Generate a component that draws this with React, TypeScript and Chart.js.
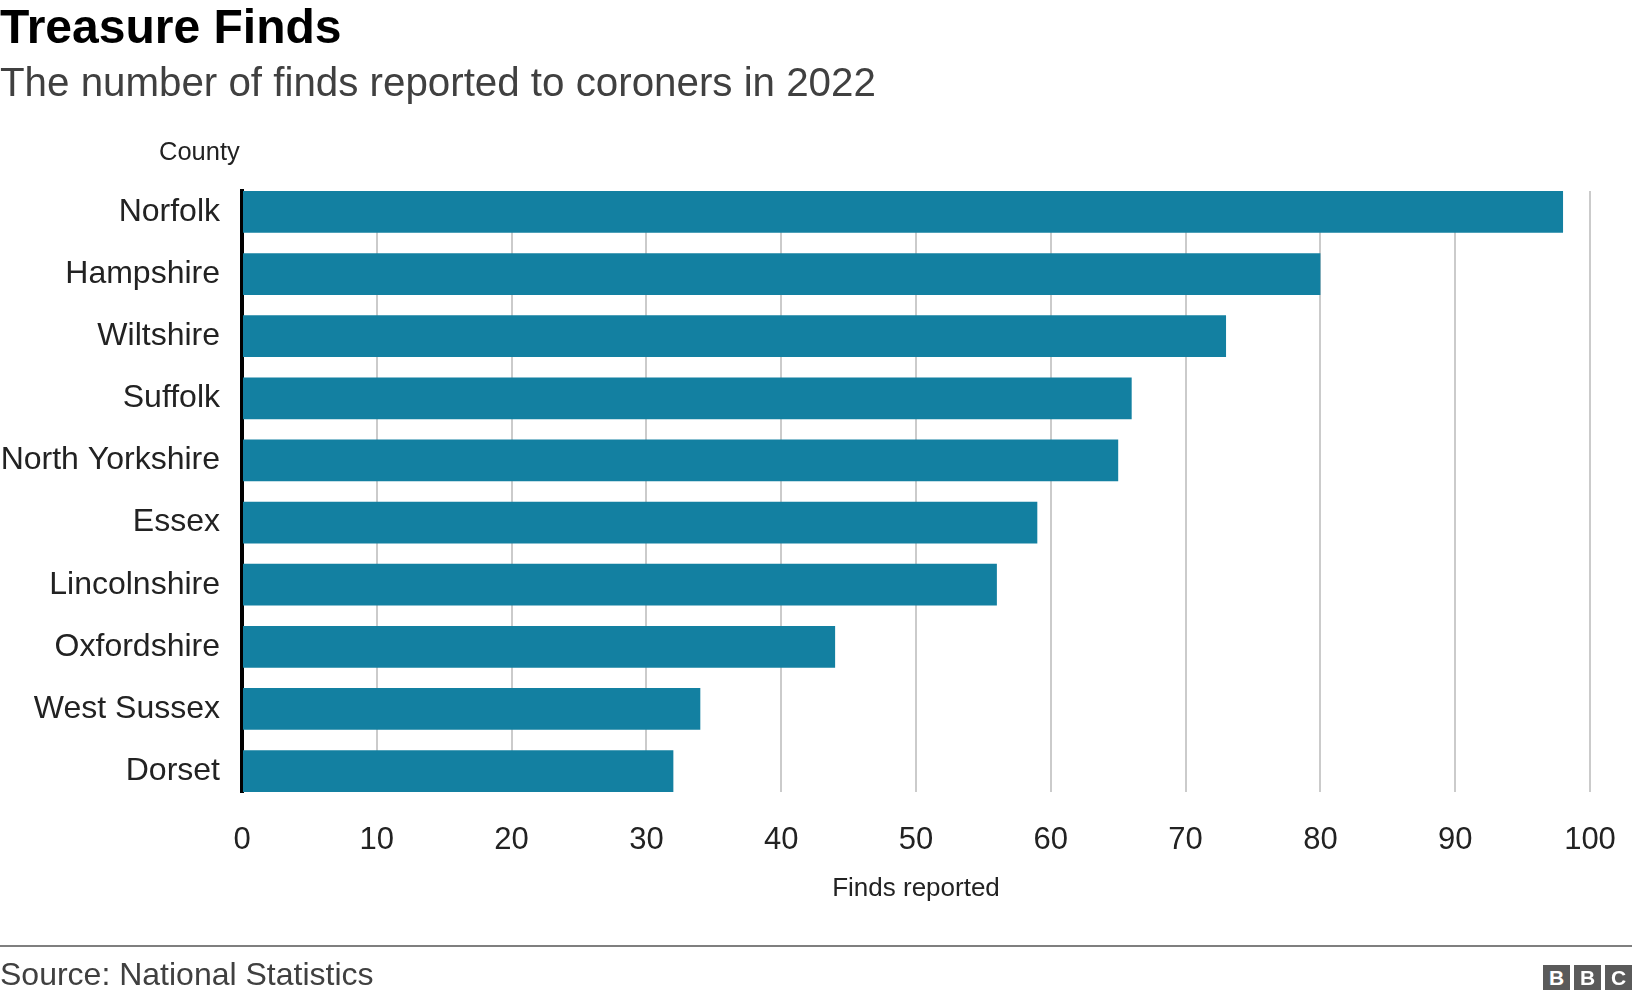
import React, { useEffect, useRef } from 'react';
import { Chart, registerables } from 'chart.js';

Chart.register(...registerables);

const FONT = '"Liberation Sans", Arial, Helvetica, sans-serif';

const counties = [
  'Norfolk',
  'Hampshire',
  'Wiltshire',
  'Suffolk',
  'North Yorkshire',
  'Essex',
  'Lincolnshire',
  'Oxfordshire',
  'West Sussex',
  'Dorset',
];
const finds = [98, 80, 73, 66, 65, 59, 56, 44, 34, 32];
const xMin = 0;
const xMax = 100;
const xStep = 10;

const titleText = 'Treasure Finds';
const subtitleText = 'The number of finds reported to coroners in 2022';
const yAxisLabel = 'County';
const xAxisLabel = 'Finds reported';
const sourceText = 'Source: National Statistics';
const logoLetters = ['B', 'B', 'C'];

const W = 1632;
const H = 1000;
const AREA_LEFT = 242;
const AREA_TOP = 191;
const AREA_RIGHT = 1590;
const AREA_BOTTOM = 792;
const PAD_BOTTOM = 96;
const HALF_BAR = 0.336;

export default function App() {
  const canvasRef = useRef<HTMLCanvasElement | null>(null);

  useEffect(() => {
    document.body.style.margin = '0';
    const canvas = canvasRef.current;
    if (!canvas) return;
    const chart = new Chart(canvas, {
      type: 'bar',
      data: {
        datasets: [
          {
            data: counties.map((c, i) => ({ x: finds[i], y: i })),
            backgroundColor: '#1380A1',
            borderWidth: 0,
            categoryPercentage: 1,
            barPercentage: HALF_BAR * 2,
          },
        ],
      },
      options: {
        indexAxis: 'y',
        animation: false,
        responsive: false,
        maintainAspectRatio: false,
        devicePixelRatio: 1,
        layout: {
          padding: { left: 0, top: AREA_TOP, right: W - AREA_RIGHT, bottom: PAD_BOTTOM },
        },
        plugins: {
          legend: { display: false },
          tooltip: { enabled: false },
          title: { display: false },
        },
        scales: {
          x: {
            type: 'linear',
            position: 'bottom',
            min: xMin,
            max: xMax,
            ticks: {
              stepSize: xStep,
              color: '#222222',
              font: { family: FONT, size: 31 },
              padding: 30,
              maxRotation: 0,
            },
            grid: { color: '#cbcbcb', lineWidth: 2, drawTicks: false, tickLength: 0 },
            border: { display: false },
            title: {
              display: true,
              text: xAxisLabel,
              color: '#222222',
              font: { family: FONT, size: 26 },
              padding: 0,
            },
            afterFit: (scale: any) => {
              scale.height = H - PAD_BOTTOM - AREA_BOTTOM;
              scale.paddingLeft = 0;
              scale.paddingRight = 0;
            },
          },
          y: {
            type: 'linear',
            position: 'left',
            reverse: true,
            offset: false,
            min: -HALF_BAR,
            max: counties.length - 1 + HALF_BAR,
            ticks: {
              stepSize: 1,
              includeBounds: false,
              autoSkip: false,
              color: '#222222',
              font: { family: FONT, size: 32 },
              padding: 22,
              callback: (v: any) => {
                const n = Number(v);
                return Number.isInteger(n) && counties[n] !== undefined ? counties[n] : '';
              },
            },
            grid: { display: false, offset: false, drawTicks: false, tickLength: 0 },
            border: { display: true, color: '#000000', width: 4 },
            afterFit: (scale: any) => {
              scale.width = AREA_LEFT;
              scale.paddingTop = 0;
              scale.paddingBottom = 0;
            },
          },
        },
      } as any,
    });
    return () => chart.destroy();
  }, []);

  return (
    <div
      style={{
        position: 'absolute',
        left: 0,
        top: 0,
        width: W,
        height: H,
        background: '#ffffff',
        overflow: 'hidden',
        fontFamily: FONT,
      }}
    >
      <canvas
        ref={canvasRef}
        width={W}
        height={H}
        style={{ position: 'absolute', left: 0, top: 0, width: W, height: H }}
      />
      <div
        style={{
          position: 'absolute',
          left: 0,
          top: 3,
          fontSize: 48,
          lineHeight: '48px',
          fontWeight: 700,
          color: '#000000',
          whiteSpace: 'nowrap',
        }}
      >
        {titleText}
      </div>
      <div
        style={{
          position: 'absolute',
          left: 0,
          top: 63,
          fontSize: 40.3,
          lineHeight: '40px',
          color: '#404040',
          whiteSpace: 'nowrap',
        }}
      >
        {subtitleText}
      </div>
      <div
        style={{
          position: 'absolute',
          left: 159,
          top: 138.5,
          fontSize: 25.5,
          lineHeight: '25px',
          color: '#222222',
          whiteSpace: 'nowrap',
        }}
      >
        {yAxisLabel}
      </div>
      <div
        style={{
          position: 'absolute',
          left: 0,
          top: 945,
          width: W,
          height: 2,
          background: '#7f7f7f',
        }}
      />
      <div
        style={{
          position: 'absolute',
          left: 0,
          top: 958,
          fontSize: 32,
          lineHeight: '32px',
          color: '#404040',
          whiteSpace: 'nowrap',
        }}
      >
        {sourceText}
      </div>
      {logoLetters.map((l, i) => (
        <div
          key={i}
          style={{
            position: 'absolute',
            left: 1543 + i * 31,
            top: 965,
            width: 27,
            height: 25,
            background: '#5a5a5a',
            color: '#ffffff',
            fontSize: 21,
            lineHeight: '25px',
            fontWeight: 700,
            textAlign: 'center',
          }}
        >
          {l}
        </div>
      ))}
    </div>
  );
}
